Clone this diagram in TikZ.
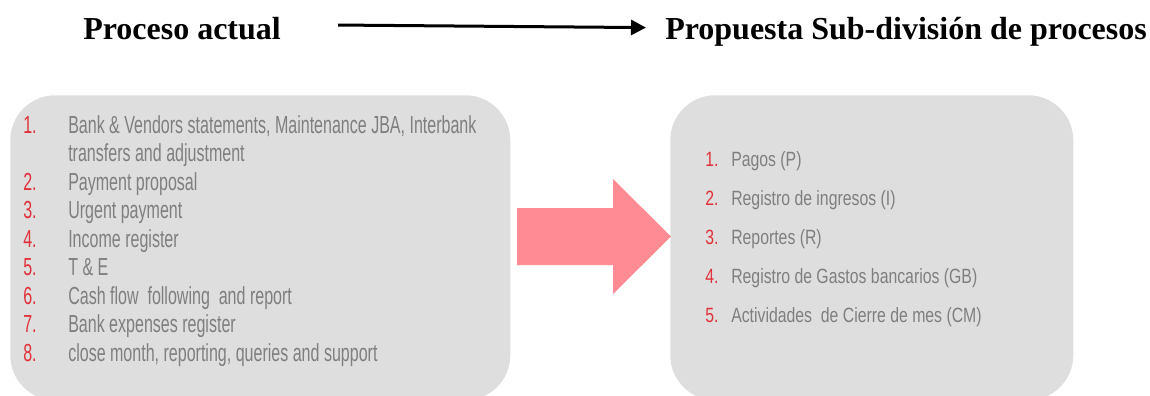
\documentclass[tikz,border=0pt]{standalone}
\usepackage{fontspec}
\setmainfont{Liberation Serif}
\newfontfamily\listfont[FakeStretch=0.65]{Liberation Sans}
\newfontfamily\sublistfont[FakeStretch=0.765]{Liberation Sans}
\usetikzlibrary{arrows.meta,positioning}
\definecolor{PanelGray}{HTML}{DEDEDE}
\definecolor{ItemGray}{HTML}{7F7F7F}
\definecolor{ItemRed}{HTML}{E0303A}
\definecolor{FlowPink}{HTML}{FF8C94}

\begin{document}
\begin{tikzpicture}[x=0.75pt,y=-0.75pt,
    panel/.style={fill=PanelGray,rounded corners=33.75pt,anchor=north west,inner sep=0pt},
    heading/.style={font=\bfseries\fontsize{24}{28}\selectfont,anchor=base west,inner sep=0pt},
    itemlist/.style={anchor=base west,inner sep=0pt,text=ItemGray}]
  \useasboundingbox (0,0) rectangle (1150,396);
  \clip (0,0) rectangle (1150,396);

  % headings
  \node[heading] (cur) at (83,40) {Proceso actual};
  \node[heading] (prop) at (665,40) {Propuesta Sub-división de procesos};
  \draw[line width=2.25pt,-{Triangle[length=11.25pt,width=11.25pt]},
    shorten <=42.75pt,shorten >=14.25pt]
    ([yshift=3.4pt]cur.east) -- ([yshift=3.4pt]prop.west);

  % panels
  \node[panel,minimum width=375pt,minimum height=228.75pt] (curpanel) at (10,95) {};
  \node[panel,minimum width=302.25pt,minimum height=228.75pt] (proppanel) at (670,95) {};
  \fill[FlowPink] (517,208) -- (613,208) -- (613,179) -- (671,236.5)
    -- (613,294) -- (613,265) -- (517,265) -- cycle;

  \node[itemlist,font=\listfont\fontsize{18.5}{21.4}\selectfont] (curlist) at (23,133) {%
    \begin{tabular}[t]{@{}p{33.75pt}@{}l@{}}
      \textcolor{ItemRed}{1.} & Bank \& Vendors statements, Maintenance JBA, Interbank\\
                              & transfers and adjustment\\
      \textcolor{ItemRed}{2.} & Payment proposal\\
      \textcolor{ItemRed}{3.} & Urgent payment\\
      \textcolor{ItemRed}{4.} & Income register\\
      \textcolor{ItemRed}{5.} & T \& E\\
      \textcolor{ItemRed}{6.} & Cash flow\ \ following\ \ and report\\
      \textcolor{ItemRed}{7.} & Bank expenses register\\
      \textcolor{ItemRed}{8.} & close month, reporting, queries and support
    \end{tabular}};

  \node[itemlist,font=\sublistfont\fontsize{15.5}{29.25}\selectfont] (proplist) at (705,166) {%
    \begin{tabular}[t]{@{}p{19.5pt}@{}l@{}}
      \textcolor{ItemRed}{1.} & Pagos (P)\\
      \textcolor{ItemRed}{2.} & Registro de ingresos (I)\\
      \textcolor{ItemRed}{3.} & Reportes (R)\\
      \textcolor{ItemRed}{4.} & Registro de Gastos bancarios (GB)\\
      \textcolor{ItemRed}{5.} & Actividades\ \ de Cierre de mes (CM)
    \end{tabular}};
\end{tikzpicture}
\end{document}
